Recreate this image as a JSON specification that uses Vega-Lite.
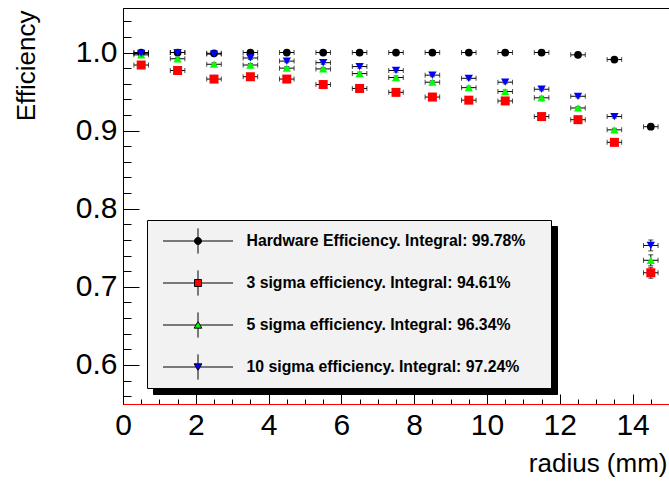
{
  "$schema": "https://vega.github.io/schema/vega-lite/v6.json",
  "width": 546,
  "height": 396,
  "autosize": {"type": "none"},
  "padding": {"left": 123, "top": 8, "right": 0, "bottom": 77},
  "background": "white",
  "config": {"view": {"stroke": "black", "strokeWidth": 1}, "font": "Liberation Sans"},
  "datasets": {
    "eff": [
      {"x": 0.5, "y": 1.000, "series": "Hardware Efficiency. Integral: 99.78%", "xe": 0.2, "ye": 0.002},
      {"x": 1.5, "y": 1.000, "series": "Hardware Efficiency. Integral: 99.78%", "xe": 0.2, "ye": 0.002},
      {"x": 2.5, "y": 0.999, "series": "Hardware Efficiency. Integral: 99.78%", "xe": 0.2, "ye": 0.002},
      {"x": 3.5, "y": 1.000, "series": "Hardware Efficiency. Integral: 99.78%", "xe": 0.2, "ye": 0.002},
      {"x": 4.5, "y": 1.000, "series": "Hardware Efficiency. Integral: 99.78%", "xe": 0.2, "ye": 0.002},
      {"x": 5.5, "y": 1.000, "series": "Hardware Efficiency. Integral: 99.78%", "xe": 0.2, "ye": 0.002},
      {"x": 6.5, "y": 1.000, "series": "Hardware Efficiency. Integral: 99.78%", "xe": 0.2, "ye": 0.002},
      {"x": 7.5, "y": 1.000, "series": "Hardware Efficiency. Integral: 99.78%", "xe": 0.2, "ye": 0.002},
      {"x": 8.5, "y": 1.000, "series": "Hardware Efficiency. Integral: 99.78%", "xe": 0.2, "ye": 0.002},
      {"x": 9.5, "y": 1.000, "series": "Hardware Efficiency. Integral: 99.78%", "xe": 0.2, "ye": 0.002},
      {"x": 10.5, "y": 1.000, "series": "Hardware Efficiency. Integral: 99.78%", "xe": 0.2, "ye": 0.002},
      {"x": 11.5, "y": 1.000, "series": "Hardware Efficiency. Integral: 99.78%", "xe": 0.2, "ye": 0.002},
      {"x": 12.5, "y": 0.997, "series": "Hardware Efficiency. Integral: 99.78%", "xe": 0.2, "ye": 0.002},
      {"x": 13.5, "y": 0.991, "series": "Hardware Efficiency. Integral: 99.78%", "xe": 0.2, "ye": 0.002},
      {"x": 14.5, "y": 0.905, "series": "Hardware Efficiency. Integral: 99.78%", "xe": 0.2, "ye": 0.003},
      {"x": 0.5, "y": 0.984, "series": "3 sigma efficiency. Integral: 94.61%", "xe": 0.2, "ye": 0.002},
      {"x": 1.5, "y": 0.977, "series": "3 sigma efficiency. Integral: 94.61%", "xe": 0.2, "ye": 0.002},
      {"x": 2.5, "y": 0.966, "series": "3 sigma efficiency. Integral: 94.61%", "xe": 0.2, "ye": 0.002},
      {"x": 3.5, "y": 0.969, "series": "3 sigma efficiency. Integral: 94.61%", "xe": 0.2, "ye": 0.002},
      {"x": 4.5, "y": 0.966, "series": "3 sigma efficiency. Integral: 94.61%", "xe": 0.2, "ye": 0.002},
      {"x": 5.5, "y": 0.959, "series": "3 sigma efficiency. Integral: 94.61%", "xe": 0.2, "ye": 0.002},
      {"x": 6.5, "y": 0.954, "series": "3 sigma efficiency. Integral: 94.61%", "xe": 0.2, "ye": 0.002},
      {"x": 7.5, "y": 0.949, "series": "3 sigma efficiency. Integral: 94.61%", "xe": 0.2, "ye": 0.002},
      {"x": 8.5, "y": 0.943, "series": "3 sigma efficiency. Integral: 94.61%", "xe": 0.2, "ye": 0.002},
      {"x": 9.5, "y": 0.939, "series": "3 sigma efficiency. Integral: 94.61%", "xe": 0.2, "ye": 0.002},
      {"x": 10.5, "y": 0.938, "series": "3 sigma efficiency. Integral: 94.61%", "xe": 0.2, "ye": 0.002},
      {"x": 11.5, "y": 0.918, "series": "3 sigma efficiency. Integral: 94.61%", "xe": 0.2, "ye": 0.002},
      {"x": 12.5, "y": 0.914, "series": "3 sigma efficiency. Integral: 94.61%", "xe": 0.2, "ye": 0.002},
      {"x": 13.5, "y": 0.885, "series": "3 sigma efficiency. Integral: 94.61%", "xe": 0.2, "ye": 0.002},
      {"x": 14.5, "y": 0.718, "series": "3 sigma efficiency. Integral: 94.61%", "xe": 0.2, "ye": 0.007},
      {"x": 0.5, "y": 0.997, "series": "5 sigma efficiency. Integral: 96.34%", "xe": 0.2, "ye": 0.002},
      {"x": 1.5, "y": 0.992, "series": "5 sigma efficiency. Integral: 96.34%", "xe": 0.2, "ye": 0.002},
      {"x": 2.5, "y": 0.985, "series": "5 sigma efficiency. Integral: 96.34%", "xe": 0.2, "ye": 0.002},
      {"x": 3.5, "y": 0.984, "series": "5 sigma efficiency. Integral: 96.34%", "xe": 0.2, "ye": 0.002},
      {"x": 4.5, "y": 0.980, "series": "5 sigma efficiency. Integral: 96.34%", "xe": 0.2, "ye": 0.002},
      {"x": 5.5, "y": 0.979, "series": "5 sigma efficiency. Integral: 96.34%", "xe": 0.2, "ye": 0.002},
      {"x": 6.5, "y": 0.973, "series": "5 sigma efficiency. Integral: 96.34%", "xe": 0.2, "ye": 0.002},
      {"x": 7.5, "y": 0.968, "series": "5 sigma efficiency. Integral: 96.34%", "xe": 0.2, "ye": 0.002},
      {"x": 8.5, "y": 0.962, "series": "5 sigma efficiency. Integral: 96.34%", "xe": 0.2, "ye": 0.002},
      {"x": 9.5, "y": 0.955, "series": "5 sigma efficiency. Integral: 96.34%", "xe": 0.2, "ye": 0.002},
      {"x": 10.5, "y": 0.950, "series": "5 sigma efficiency. Integral: 96.34%", "xe": 0.2, "ye": 0.002},
      {"x": 11.5, "y": 0.942, "series": "5 sigma efficiency. Integral: 96.34%", "xe": 0.2, "ye": 0.002},
      {"x": 12.5, "y": 0.929, "series": "5 sigma efficiency. Integral: 96.34%", "xe": 0.2, "ye": 0.002},
      {"x": 13.5, "y": 0.901, "series": "5 sigma efficiency. Integral: 96.34%", "xe": 0.2, "ye": 0.002},
      {"x": 14.5, "y": 0.734, "series": "5 sigma efficiency. Integral: 96.34%", "xe": 0.2, "ye": 0.007},
      {"x": 0.5, "y": 0.999, "series": "10 sigma efficiency. Integral: 97.24%", "xe": 0.2, "ye": 0.002},
      {"x": 1.5, "y": 1.000, "series": "10 sigma efficiency. Integral: 97.24%", "xe": 0.2, "ye": 0.002},
      {"x": 2.5, "y": 0.998, "series": "10 sigma efficiency. Integral: 97.24%", "xe": 0.2, "ye": 0.002},
      {"x": 3.5, "y": 0.993, "series": "10 sigma efficiency. Integral: 97.24%", "xe": 0.2, "ye": 0.002},
      {"x": 4.5, "y": 0.989, "series": "10 sigma efficiency. Integral: 97.24%", "xe": 0.2, "ye": 0.002},
      {"x": 5.5, "y": 0.987, "series": "10 sigma efficiency. Integral: 97.24%", "xe": 0.2, "ye": 0.002},
      {"x": 6.5, "y": 0.982, "series": "10 sigma efficiency. Integral: 97.24%", "xe": 0.2, "ye": 0.002},
      {"x": 7.5, "y": 0.977, "series": "10 sigma efficiency. Integral: 97.24%", "xe": 0.2, "ye": 0.002},
      {"x": 8.5, "y": 0.971, "series": "10 sigma efficiency. Integral: 97.24%", "xe": 0.2, "ye": 0.002},
      {"x": 9.5, "y": 0.967, "series": "10 sigma efficiency. Integral: 97.24%", "xe": 0.2, "ye": 0.002},
      {"x": 10.5, "y": 0.962, "series": "10 sigma efficiency. Integral: 97.24%", "xe": 0.2, "ye": 0.002},
      {"x": 11.5, "y": 0.953, "series": "10 sigma efficiency. Integral: 97.24%", "xe": 0.2, "ye": 0.002},
      {"x": 12.5, "y": 0.944, "series": "10 sigma efficiency. Integral: 97.24%", "xe": 0.2, "ye": 0.002},
      {"x": 13.5, "y": 0.918, "series": "10 sigma efficiency. Integral: 97.24%", "xe": 0.2, "ye": 0.002},
      {"x": 14.5, "y": 0.753, "series": "10 sigma efficiency. Integral: 97.24%", "xe": 0.2, "ye": 0.007}
    ]
  },
  "data": {"name": "eff"},
  "encoding": {
    "x": {
      "field": "x", "type": "quantitative",
      "scale": {"domain": [0, 15], "nice": false, "zero": false},
      "axis": {
        "title": "radius (mm)", "titleFont": "Liberation Sans", "titleFontSize": 26, "titleFontWeight": "normal", "titleColor": "black",
        "titleAnchor": "end", "titleAlign": "right", "titleBaseline": "alphabetic", "titleX": 544, "titleY": 67,
        "values": [0, 0.5, 1, 1.5, 2, 2.5, 3, 3.5, 4, 4.5, 5, 5.5, 6, 6.5, 7, 7.5, 8, 8.5, 9, 9.5, 10, 10.5, 11, 11.5, 12, 12.5, 13, 13.5, 14, 14.5, 15],
        "labelExpr": "datum.value % 2 == 0 ? format(datum.value, 'd') : ''",
        "labelFont": "Liberation Sans", "labelFontSize": 30, "labelColor": "black", "labelPadding": 16,
        "labelFlush": false, "labelOverlap": false, "labelBound": false,
        "tickSize": {"condition": {"test": "datum.value % 2 == 0", "value": -10}, "value": -5},
        "tickColor": "black", "tickWidth": 1,
        "domainColor": "red", "domainWidth": 1, "grid": false
      }
    },
    "y": {
      "field": "y", "type": "quantitative",
      "scale": {"domain": [0.55, 1.057], "nice": false, "zero": false},
      "axis": {
        "title": "Efficiency", "titleFont": "Liberation Sans", "titleFontSize": 26, "titleFontWeight": "normal", "titleColor": "black",
        "titleAnchor": "end", "titleAngle": -90, "titleAlign": "right", "titleBaseline": "alphabetic", "titleX": -89, "titleY": 2,
        "values": [0.56, 0.58, 0.6, 0.62, 0.64, 0.66, 0.68, 0.7, 0.72, 0.74, 0.76, 0.78, 0.8, 0.82, 0.84, 0.86, 0.88, 0.9, 0.92, 0.94, 0.96, 0.98, 1.0, 1.02, 1.04],
        "labelExpr": "abs(datum.value*10 - round(datum.value*10)) < 0.001 ? format(datum.value, '.1f') : ''",
        "labelFont": "Liberation Sans", "labelFontSize": 30, "labelColor": "black", "labelPadding": 22,
        "labelFlush": false, "labelOverlap": false, "labelBound": false,
        "tickSize": {"condition": {"test": "abs(datum.value*10 - round(datum.value*10)) < 0.001", "value": -16}, "value": -8},
        "tickColor": "black", "tickWidth": 1,
        "domainColor": "black", "domainWidth": 1, "grid": false
      }
    }
  },
  "layer": [
    {
      "mark": {"type": "errorbar", "ticks": {"size": 5, "color": "black", "thickness": 1}, "rule": {"color": "black", "strokeWidth": 1}},
      "encoding": {"xError": {"field": "xe"}}
    },
    {
      "mark": {"type": "errorbar", "ticks": {"size": 5, "color": "black", "thickness": 1}, "rule": {"color": "black", "strokeWidth": 1}},
      "encoding": {"yError": {"field": "ye"}}
    },
    {
      "transform": [{"filter": {"field": "series", "equal": "Hardware Efficiency. Integral: 99.78%"}}],
      "mark": {"type": "point", "shape": "circle", "filled": true, "color": "#000000", "opacity": 1, "size": 60, "strokeWidth": 0}
    },
    {
      "transform": [{"filter": {"field": "series", "equal": "3 sigma efficiency. Integral: 94.61%"}}],
      "mark": {"type": "point", "shape": "square", "filled": true, "color": "#ff0000", "opacity": 1, "size": 81, "strokeWidth": 0}
    },
    {
      "transform": [{"filter": {"field": "series", "equal": "5 sigma efficiency. Integral: 96.34%"}}],
      "mark": {"type": "point", "shape": "triangle-up", "filled": true, "color": "#00ff00", "opacity": 1, "size": 70, "strokeWidth": 0}
    },
    {
      "transform": [{"filter": {"field": "series", "equal": "10 sigma efficiency. Integral: 97.24%"}}],
      "mark": {"type": "point", "shape": "triangle-down", "filled": true, "color": "#0000ff", "opacity": 1, "size": 70, "strokeWidth": 0}
    },
    {
      "transform": [{"filter": "false"}],
      "mark": {"type": "point", "filled": true, "stroke": "black", "strokeWidth": 1},
      "encoding": {
        "opacity": {
          "field": "series", "type": "ordinal",
          "scale": {
            "type": "ordinal",
            "domain": ["10 sigma efficiency. Integral: 97.24%", "5 sigma efficiency. Integral: 96.34%", "3 sigma efficiency. Integral: 94.61%", "Hardware Efficiency. Integral: 99.78%"],
            "range": [0, 0, 0, 0]
          },
          "legend": {
            "orient": "none", "legendX": 30, "legendY": 218, "direction": "vertical", "zindex": 1,
            "title": ".", "titleOrient": "right", "titlePadding": 12.6, "titleFontSize": 16, "titleColor": "black",
            "values": ["10 sigma efficiency. Integral: 97.24%", "5 sigma efficiency. Integral: 96.34%", "3 sigma efficiency. Integral: 94.61%", "Hardware Efficiency. Integral: 99.78%"],
            "fillColor": "black", "strokeColor": "black", "padding": 8,
            "symbolSize": 4900, "symbolOffset": 7.5, "symbolStrokeWidth": 1,
            "labelOffset": 13, "clipHeight": 26, "rowPadding": 16,
            "labelFont": "Liberation Sans", "labelFontWeight": "bold", "labelFontSize": 15.8, "labelColor": "black", "labelOpacity": 0, "labelLimit": 600
          }
        },
        "color": {
          "field": "series", "type": "nominal",
          "scale": {
            "domain": ["Hardware Efficiency. Integral: 99.78%", "3 sigma efficiency. Integral: 94.61%", "5 sigma efficiency. Integral: 96.34%", "10 sigma efficiency. Integral: 97.24%"],
            "range": ["#000000", "#ff0000", "#00ff00", "#0000ff"]
          },
          "legend": {
            "orient": "none", "legendX": 24, "legendY": 212, "direction": "vertical", "zindex": 2,
            "title": ".", "titleOrient": "right", "titlePadding": 12.6, "titleFontSize": 16, "titleColor": "#f2f2f2",
            "fillColor": "#f2f2f2", "strokeColor": "black", "padding": 8,
            "symbolSize": 4900, "symbolOffset": 7.5, "symbolStrokeColor": "black", "symbolStrokeWidth": 1, "symbolOpacity": 1,
            "labelOffset": 13, "clipHeight": 26, "rowPadding": 16,
            "labelFont": "Liberation Sans", "labelFontWeight": "bold", "labelFontSize": 15.8, "labelColor": "black", "labelLimit": 600,
            "encode": {"symbols": {"update": {"stroke": {"value": "black"}, "strokeWidth": {"value": 1}, "opacity": {"value": 1}}}}
          }
        },
        "shape": {
          "field": "series", "type": "nominal",
          "scale": {
            "domain": ["Hardware Efficiency. Integral: 99.78%", "3 sigma efficiency. Integral: 94.61%", "5 sigma efficiency. Integral: 96.34%", "10 sigma efficiency. Integral: 97.24%"],
            "range": [
              "M0.1,0A0.1,0.1,0,1,1,-0.1,0A0.1,0.1,0,1,1,0.1,0Z M-1,0H-0.1 M0.1,0H1 M0,-0.36V-0.1 M0,0.1V0.36",
              "M-0.1,-0.1H0.1V0.1H-0.1Z M-1,0H-0.1 M0.1,0H1 M0,-0.36V-0.1 M0,0.1V0.36",
              "M0,-0.1L0.11,0.09H-0.11Z M-1,0H-0.058 M0.058,0H1 M0,-0.36V-0.1 M0,0.09V0.36",
              "M0,0.1L0.11,-0.09H-0.11Z M-1,0H-0.058 M0.058,0H1 M0,-0.36V-0.09 M0,0.1V0.36"
            ]
          },
          "legend": {
            "orient": "none", "legendX": 24, "legendY": 212, "direction": "vertical", "zindex": 2,
            "title": ".", "titleOrient": "right", "titlePadding": 12.6, "titleFontSize": 16, "titleColor": "#f2f2f2",
            "fillColor": "#f2f2f2", "strokeColor": "black", "padding": 8,
            "symbolSize": 4900, "symbolOffset": 7.5, "symbolStrokeColor": "black", "symbolStrokeWidth": 1, "symbolOpacity": 1,
            "labelOffset": 13, "clipHeight": 26, "rowPadding": 16,
            "labelFont": "Liberation Sans", "labelFontWeight": "bold", "labelFontSize": 15.8, "labelColor": "black", "labelLimit": 600,
            "encode": {"symbols": {"update": {"stroke": {"value": "black"}, "strokeWidth": {"value": 1}, "opacity": {"value": 1}}}}
          }
        }
      }
    }
  ]
}
